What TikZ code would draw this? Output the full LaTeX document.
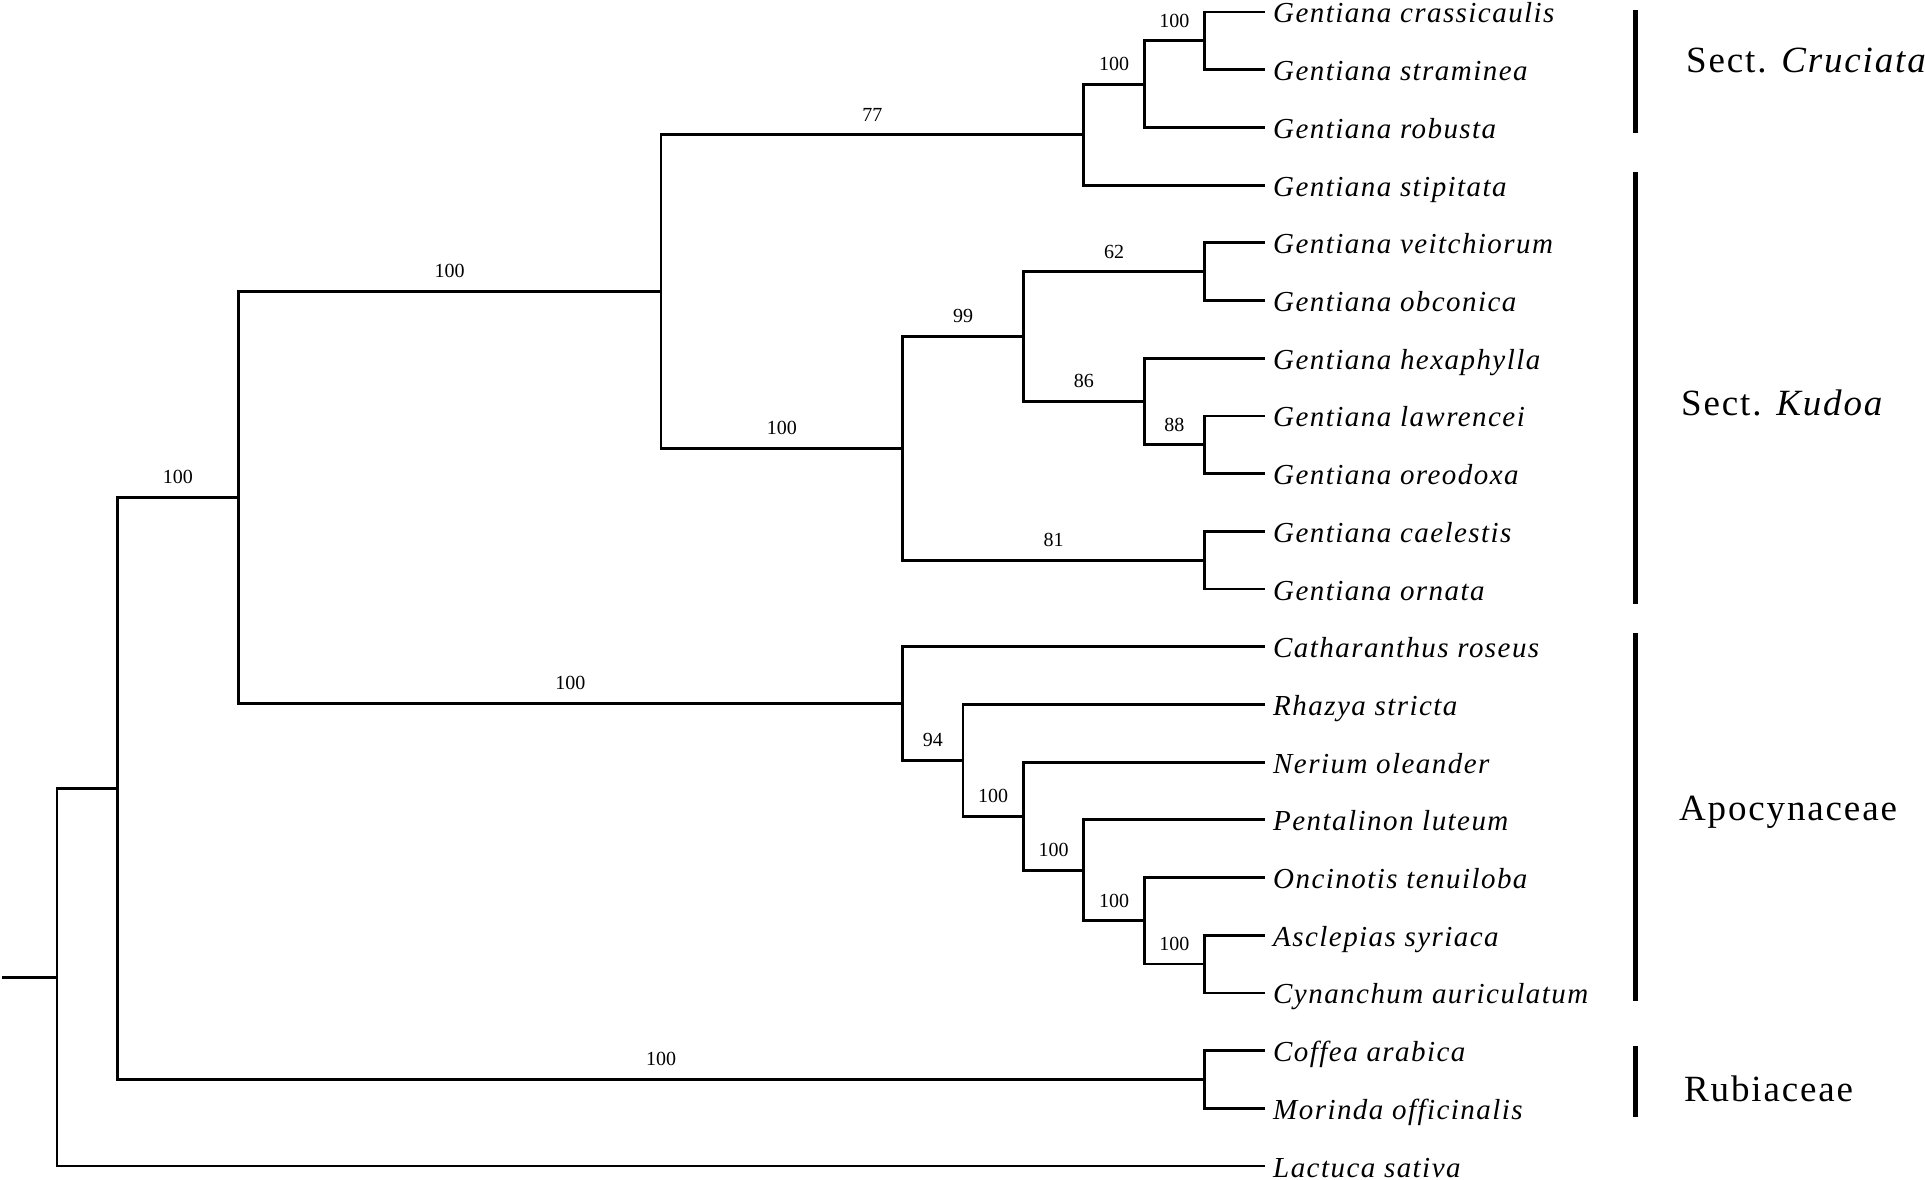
\documentclass[tikz,border=0pt]{standalone}
\usepackage{fontspec}
\setmainfont{Liberation Serif}
\newfontfamily\leaffont[LetterSpace=5]{Liberation Serif}
\newfontfamily\cladefont[LetterSpace=5]{Liberation Serif}
\begin{document}
\begin{tikzpicture}[x=1pt,y=-1pt,
  declare function={px(\k)=-3.4+60.4*\k; py(\i)=12+(\i-1)*57.7;},
  br/.style={line width=2.8pt, line join=miter},
  boot/.style={font=\fontsize{20}{24}\selectfont, inner sep=0pt, pos=0.75, above=12pt},
  leaf/.style={font=\leaffont\itshape\fontsize{29}{34}\selectfont, anchor=base west, inner sep=0pt},
  clade/.style={font=\cladefont\fontsize{37}{44}\selectfont, anchor=base west, inner sep=0pt},
  bar/.style={line width=5pt}]
\fill[white] (0,0) rectangle (1925,1180);
\useasboundingbox (0,0) rectangle (1925,1180);

% internal nodes
\coordinate (root0) at (2,{py(17.7285)});
\coordinate (root) at ({px(1)},{py(17.7285)});
\coordinate (A) at ({px(2)},{py(14.45703)});
\coordinate (B) at ({px(4)},{py(9.4140625)});
\coordinate (C) at ({px(11)},{py(5.84375)});
\coordinate (E) at ({px(18)},{py(3.125)});
\coordinate (F) at ({px(19)},{py(2.25)});
\coordinate (G) at ({px(20)},{py(1.5)});
\coordinate (H) at ({px(15)},{py(8.5625)});
\coordinate (I) at ({px(17)},{py(6.625)});
\coordinate (J) at ({px(20)},{py(5.5)});
\coordinate (K) at ({px(19)},{py(7.75)});
\coordinate (L) at ({px(20)},{py(8.5)});
\coordinate (M) at ({px(20)},{py(10.5)});
\coordinate (D) at ({px(15)},{py(12.984375)});
\coordinate (N) at ({px(16)},{py(13.96875)});
\coordinate (O) at ({px(17)},{py(14.9375)});
\coordinate (P) at ({px(18)},{py(15.875)});
\coordinate (Q) at ({px(19)},{py(16.75)});
\coordinate (R) at ({px(20)},{py(17.5)});
\coordinate (S) at ({px(20)},{py(19.5)});

% leaf tips and labels
\foreach \i in {1,...,21} \coordinate (t\i) at ({px(21)},{py(\i)});
\foreach \i/\nm in {1/Gentiana crassicaulis, 2/Gentiana straminea, 3/Gentiana robusta,
  4/Gentiana stipitata, 5/Gentiana veitchiorum, 6/Gentiana obconica, 7/Gentiana hexaphylla,
  8/Gentiana lawrencei, 9/Gentiana oreodoxa, 10/Gentiana caelestis, 11/Gentiana ornata,
  12/Catharanthus roseus, 13/Rhazya stricta, 14/Nerium oleander, 15/Pentalinon luteum,
  16/Oncinotis tenuiloba, 17/Asclepias syriaca, 18/Cynanchum auriculatum,
  19/Coffea arabica, 20/Morinda officinalis, 21/Lactuca sativa}
  \path (t\i) ++(8,11) node[leaf] (l\i) {\nm};

% branches
\draw[br] (root0) -- (root);
\draw[br] (root) |- (A);
\draw[br] (root) |- (t21);
\draw[br] (A) |- (B) node[boot] {100};
\draw[br] (A) |- (S) node[boot] {100};
\draw[br] (B) |- (C) node[boot] {100};
\draw[br] (B) |- (D) node[boot] {100};
\draw[br] (C) |- (E) node[boot] {77};
\draw[br] (C) |- (H) node[boot] {100};
\draw[br] (E) |- (F) node[boot] {100};
\draw[br] (E) |- (t4);
\draw[br] (F) |- (G) node[boot] {100};
\draw[br] (F) |- (t3);
\draw[br] (G) |- (t1);
\draw[br] (G) |- (t2);
\draw[br] (H) |- (I) node[boot] {99};
\draw[br] (H) |- (M) node[boot] {81};
\draw[br] (I) |- (J) node[boot] {62};
\draw[br] (I) |- (K) node[boot] {86};
\draw[br] (J) |- (t5);
\draw[br] (J) |- (t6);
\draw[br] (K) |- (t7);
\draw[br] (K) |- (L) node[boot] {88};
\draw[br] (L) |- (t8);
\draw[br] (L) |- (t9);
\draw[br] (M) |- (t10);
\draw[br] (M) |- (t11);
\draw[br] (D) |- (t12);
\draw[br] (D) |- (N) node[boot] {94};
\draw[br] (N) |- (t13);
\draw[br] (N) |- (O) node[boot] {100};
\draw[br] (O) |- (t14);
\draw[br] (O) |- (P) node[boot] {100};
\draw[br] (P) |- (t15);
\draw[br] (P) |- (Q) node[boot] {100};
\draw[br] (Q) |- (t16);
\draw[br] (Q) |- (R) node[boot] {100};
\draw[br] (R) |- (t17);
\draw[br] (R) |- (t18);
\draw[br] (S) |- (t19);
\draw[br] (S) |- (t20);

% clade bars
\coordinate (b1t) at (1635,10);   \coordinate (b1b) at (1635,133);
\coordinate (b2t) at (1635,172);  \coordinate (b2b) at (1635,604);
\coordinate (b3t) at (1635,633);  \coordinate (b3b) at (1635,1001);
\coordinate (b4t) at (1635,1046); \coordinate (b4b) at (1635,1117);
\draw[bar] (b1t) -- (b1b);
\draw[bar] (b2t) -- (b2b);
\draw[bar] (b3t) -- (b3b);
\draw[bar] (b4t) -- (b4b);

% clade labels
\node[clade] (c1) at (1686,73) {Sect. \textit{Cruciata}};
\node[clade] (c2) at (1681,415) {Sect. \textit{Kudoa}};
\node[clade] (c3) at (1679,820) {Apocynaceae};
\node[clade] (c4) at (1684,1101) {Rubiaceae};
\end{tikzpicture}
\end{document}
